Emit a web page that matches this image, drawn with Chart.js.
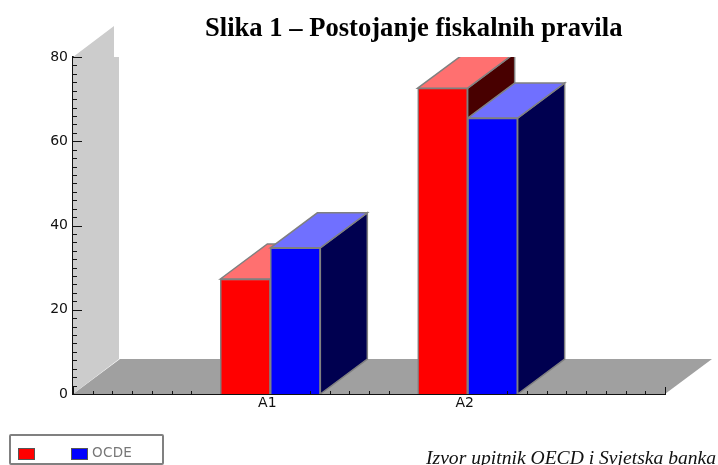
<!DOCTYPE html>
<html><head><meta charset="utf-8">
<style>
html,body{margin:0;padding:0;background:#fff;overflow:hidden}
#wrap{position:relative;width:718px;height:465px;overflow:hidden}
canvas{position:absolute;left:0;top:0}
#title{position:absolute;left:205px;top:12px;font:bold 26.6px "Liberation Serif";white-space:nowrap;color:#000}
#source{position:absolute;left:426px;top:447px;font:italic 19.6px "Liberation Serif";white-space:nowrap;color:#111}
#legend{position:absolute;left:9px;top:434px;width:151px;height:27px;border:2px solid #808080;border-radius:2px;background:#fff;font:13.5px "DejaVu Sans";color:#777}
.sw{position:absolute;top:12px;width:15px;height:10px;border:1px solid #555}
.lb{position:absolute;top:8px;letter-spacing:.3px;filter:blur(.4px)}
</style></head><body>
<div id="wrap">
<canvas id="c" width="718" height="465"></canvas>
<div id="title"></div><div id="source"></div><div id="legend"></div>
</div>
<script src="https://cdn.jsdelivr.net/npm/chart.js@4"></script>
<script>
const titleText = "Slika 1 – Postojanje fiskalnih pravila";
const sourceText = "Izvor  upitnik OECD i Svjetska banka";
const categories = ["", "A1", "A2", ""];
const seriesNames = ["", "OCDE"];
const redValues = [null, 27.3, 72.6, null];
const blueValues = [null, 34.7, 65.5, null];
const yMax = 80, yMinorStep = 2, yLabelStep = 20;
const xMinorStep = 0.1;

const DX = 47, DY = -35;
const faces = [
  {front:"#ff0000", top:"#ff7070", side:"#480000"},
  {front:"#0000ff", top:"#7070ff", side:"#000050"}
];
function poly(ctx, pts, fill, stroke){
  ctx.beginPath();
  pts.forEach((p,i)=> i ? ctx.lineTo(p[0],p[1]) : ctx.moveTo(p[0],p[1]));
  ctx.closePath();
  ctx.fillStyle = fill; ctx.fill();
  if (stroke){ ctx.strokeStyle = stroke; ctx.lineWidth = 1.5; ctx.stroke(); }
}
const scene = {
  id: "scene",
  beforeDatasetsDraw(chart){
    const {ctx, chartArea:a} = chart;
    ctx.save();
    poly(ctx, [[a.left,a.bottom],[a.left+DX,a.bottom+DY],[a.right+DX,a.bottom+DY],[a.right,a.bottom]], "#a0a0a0");
    poly(ctx, [[a.left,a.top],[a.left+41,a.top-31],[a.left+41,a.top],[a.left+DX-1,a.top],[a.left+DX-1,a.bottom+DY],[a.left,a.bottom]], "#cccccc");
    ctx.beginPath();
    ctx.rect(0, a.top, chart.width, a.bottom-a.top);
    ctx.clip();
    chart.data.datasets.forEach((ds,i)=>{
      chart.getDatasetMeta(i).data.forEach((bar,j)=>{
        if (ds.data[j] == null) return;
        const p = bar.getProps(["x","y","base","width"]);
        const l = p.x-p.width/2, r = p.x+p.width/2;
        poly(ctx, [[r,p.y],[r+DX,p.y+DY],[r+DX,p.base+DY],[r,p.base]], faces[i].side, "#808080");
        poly(ctx, [[l,p.y],[l+DX,p.y+DY],[r+DX,p.y+DY],[r,p.y]], faces[i].top, "#808080");
      });
    });
    ctx.restore();
  },
  afterDraw(chart){
    const {ctx, chartArea:a, scales:{x,y}} = chart;
    ctx.save();
    ctx.strokeStyle = "#111"; ctx.lineWidth = 1;
    const line = (x1,y1,x2,y2)=>{ctx.beginPath();ctx.moveTo(x1,y1);ctx.lineTo(x2,y2);ctx.stroke();};
    y.ticks.forEach(t=>{
      const py = Math.round(y.getPixelForValue(t.value))+.5;
      line(a.left, py, a.left + (t.value % yLabelStep === 0 ? 9 : 4), py);
    });
    const n = categories.length-1;
    const steps = Math.round(n/xMinorStep);
    for (let i=0;i<=steps;i++){
      const v = i*xMinorStep;
      const px = Math.round(x.getPixelForValue(v))+.5;
      const hidden = chart.getDatasetMeta(0).data.some((b,j)=>{
        if (redValues[j]==null) return false;
        return px > b.x-b.width && px < b.x+b.width+1;
      });
      if (!hidden) line(px, a.bottom, px, a.bottom-(i%10===0?7:3));
    }
    ctx.restore();
  }
};
new Chart(document.getElementById("c"), {
  type:"bar",
  data:{labels:categories,datasets:[
    {label:seriesNames[0],data:redValues,backgroundColor:faces[0].front,borderColor:"#808080",borderWidth:1.5,barThickness:50},
    {label:seriesNames[1],data:blueValues,backgroundColor:faces[1].front,borderColor:"#808080",borderWidth:1.5,barThickness:50}
  ]},
  options:{
    responsive:false,animation:false,events:[],
    layout:{padding:{left:40,top:57,right:53,bottom:51}},
    plugins:{legend:{display:false},title:{display:false},tooltip:{enabled:false}},
    scales:{
      x:{offset:false,grid:{display:false,drawTicks:false},border:{color:"#111",width:2},
         afterFit(s){s.height=20;},
         ticks:{autoSkip:false,maxRotation:0,padding:1,labelOffset:-3,color:"#111",font:{family:"DejaVu Sans",size:14}}},
      y:{min:0,max:yMax,grid:{display:false,drawTicks:false},border:{color:"#111",width:2},
         afterFit(s){s.width=33;},
         ticks:{stepSize:yMinorStep,autoSkip:false,padding:5,color:"#111",font:{family:"DejaVu Sans",size:14},
                callback:v=>v%yLabelStep===0?String(v):""}}
    }
  },
  plugins:[scene]
});
document.getElementById("title").textContent = titleText;
document.getElementById("source").textContent = sourceText;
const lg = document.getElementById("legend");
const swatchX = [7,60], labelX = [null,81];
seriesNames.forEach((name,i)=>{
  const s=document.createElement("div");s.className="sw";s.style.left=swatchX[i]+"px";s.style.background=faces[i].front;lg.appendChild(s);
  if(name){const t=document.createElement("div");t.className="lb";t.style.left=labelX[i]+"px";t.textContent=name;lg.appendChild(t);}
});
</script>
</body></html>
